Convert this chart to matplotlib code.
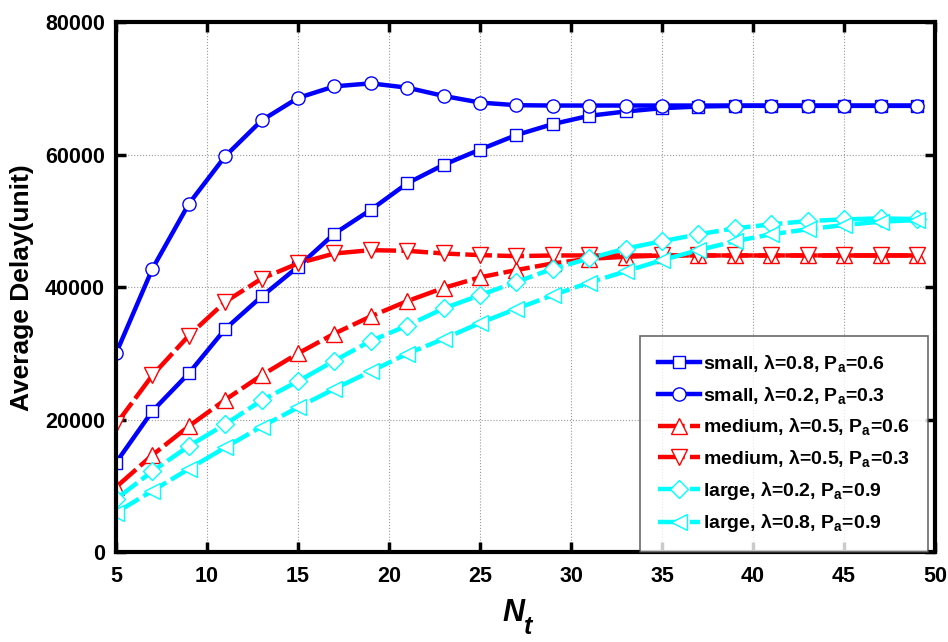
import matplotlib
matplotlib.use("Agg")
import matplotlib.pyplot as plt

plt.rcParams['font.family'] = 'Liberation Sans'
plt.rcParams['font.weight'] = 'bold'
plt.rcParams['mathtext.fontset'] = 'custom'
plt.rcParams['mathtext.rm'] = 'Liberation Sans'
plt.rcParams['mathtext.it'] = 'Liberation Sans:italic:bold'
plt.rcParams['mathtext.bf'] = 'Liberation Sans:bold'

# x values (N_t)
nt = list(range(5, 50, 2))

# small, lambda=0.8, Pa=0.6
small_08 = [13500, 21300, 27000, 33700, 38600, 43100, 48100, 51700, 55700, 58500,
            60800, 63000, 64650, 65900, 66550, 67050, 67300, 67400, 67400, 67400,
            67400, 67400, 67400]
# small, lambda=0.2, Pa=0.3
small_02 = [30000, 42800, 52600, 59800, 65200, 68600, 70350, 70800, 70150, 68900,
            67900, 67500, 67450, 67450, 67450, 67450, 67450, 67450, 67450, 67450,
            67450, 67450, 67450]
# medium, lambda=0.5, Pa=0.6
medium_06 = [9800, 14650, 19000, 23000, 26700, 30000, 33000, 35600, 37900, 39900,
             41500, 42600, 43600, 44300, 44600, 44800, 44800, 44800, 44800, 44800,
             44800, 44800, 44800]
# medium, lambda=0.5, Pa=0.3
medium_03 = [19300, 26700, 32700, 37800, 41300, 43600, 45100, 45600, 45500, 45100,
             44850, 44700, 44800, 44800, 44800, 44800, 44800, 44800, 44800, 44800,
             44800, 44800, 44800]
# large, lambda=0.2, Pa=0.9
large_02 = [8000, 12200, 16000, 19300, 22900, 25800, 28900, 31900, 34200, 36800,
            38800, 40800, 42800, 44350, 45850, 46950, 48000, 48900, 49500, 50000,
            50250, 50400, 50300]
# large, lambda=0.8, Pa=0.9
large_08 = [5950, 9250, 12550, 15800, 18950, 21850, 24650, 27300, 29950, 32200,
            34600, 36750, 38800, 40700, 42400, 44100, 45600, 46950, 48000, 48750,
            49400, 49900, 50150]

labels = [
    r'small, λ=0.8, P$_{\mathrm{a}}$=0.6',
    r'small, λ=0.2, P$_{\mathrm{a}}$=0.3',
    r'medium, λ=0.5, P$_{\mathrm{a}}$=0.6',
    r'medium, λ=0.5, P$_{\mathrm{a}}$=0.3',
    r'large, λ=0.2, P$_{\mathrm{a}}$=0.9',
    r'large, λ=0.8, P$_{\mathrm{a}}$=0.9',
]
series = [small_08, small_02, medium_06, medium_03, large_02, large_08]
colors = ['#0000ff', '#0000ff', '#ff0000', '#ff0000', '#00ffff', '#00ffff']
markers = ['s', 'o', '^', 'v', 'D', '<']
msizes = [9, 9.5, 11, 11, 9, 11]
dashed = [False, False, True, True, True, True]

fig = plt.figure(figsize=(9.48, 6.42), dpi=100)
ax = fig.add_axes([0.1224, 0.1402, 0.864, 0.8248])

for ys, c, m, ms, lab, d in zip(series, colors, markers, msizes, labels, dashed):
    line, = ax.plot(nt, ys, color=c, lw=3.2, marker=m, ms=ms, mfc='white',
                    mec=c, mew=1.0, label=lab)
    if d:
        line.set_dashes([6, 1.2])

ax.set_xlim(5, 50)
ax.set_ylim(0, 80000)
ax.set_xticks(range(5, 51, 5))
ax.set_yticks(range(0, 80001, 20000))
ax.grid(True, color='#999999', ls=':', lw=0.8)
ax.tick_params(direction='in', length=7, width=2.5, labelsize=15.5,
               top=True, right=True)
ax.tick_params(axis='x', pad=10)
ax.tick_params(axis='y', pad=8)
for lab in ax.get_xticklabels() + ax.get_yticklabels():
    lab.set_fontweight('bold')
for sp in ax.spines.values():
    sp.set_linewidth(3)

# x label: N with a large subscript t
fig.text(513 / 948, 1 - 621 / 642, 'N', fontsize=22, fontstyle='italic',
         fontweight='bold', ha='center', va='baseline')
fig.text(528 / 948, 1 - 634 / 642, 't', fontsize=18, fontstyle='italic',
         fontweight='bold', ha='center', va='baseline')
ax.set_ylabel('Average Delay(unit)', fontsize=19, fontweight='bold', labelpad=8)

leg = ax.legend(loc='lower right', bbox_to_anchor=(0.991, 0.0), numpoints=1,
                fontsize=14, frameon=True, fancybox=False, edgecolor='#444444',
                handlelength=2.2, handletextpad=0.15, labelspacing=0.55,
                borderpad=0.9, borderaxespad=0)
leg.get_frame().set_linewidth(1.2)
for t in leg.get_texts():
    t.set_fontweight('bold')

fig.savefig('out.png', dpi=100)
